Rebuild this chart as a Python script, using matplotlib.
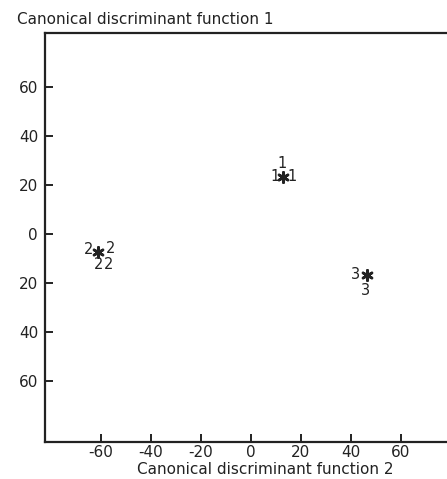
import matplotlib
matplotlib.use("Agg")
import matplotlib.pyplot as plt

# group membership of each case, and the case scores on functions 2 (x) and 1 (y)
case_groups = ["1", "1", "1", "2", "2", "2", "2", "3", "3"]
case_f2 = [12.4, 9.6, 16.4, -64.8, -56.0, -60.8, -56.8, 42.0, 46.0]
case_f1 = [28.8, 23.3, 23.3, -6.3, -6.0, -12.3, -12.3, -16.7, -23.2]

# group centroids
centroid_f2 = [12.8, -61.2, 46.4]
centroid_f1 = [23.3, -7.3, -16.7]

x_ticks = [-60, -40, -20, 0, 20, 40, 60]
x_ticklabels = ["-60", "-40", "-20", "0", "20", "40", "60"]
y_ticks = [60, 40, 20, 0, -20, -40, -60]
y_ticklabels = ["60", "40", "20", "0", "20", "40", "60"]

plt.rcParams['font.family'] = ['DejaVu Sans']

W, H = 447, 479
fig = plt.figure(figsize=(W / 100, H / 100), dpi=100)
ax = fig.add_axes([45 / W, 37 / H, (449 - 45) / W, (446 - 37) / H])

for g, x, y in zip(case_groups, case_f2, case_f1):
    ax.text(x, y, g, ha='center', va='center', fontsize=10.5, color='#222222')

ax.scatter(centroid_f2, centroid_f1, marker=(6, 2, 0), s=55, linewidths=1.9,
           color='#222222', zorder=3)

ax.set_xlim(-82.4, 79.2)
ax.set_ylim(-84.9, 82.0)
ax.set_xticks(x_ticks)
ax.set_xticklabels(x_ticklabels)
ax.set_yticks(y_ticks)
ax.set_yticklabels(y_ticklabels)
ax.tick_params(direction='in', length=6, width=1.4, labelsize=11,
               colors='#222222')
ax.tick_params(axis='x', pad=2)
ax.tick_params(axis='y', pad=5)

for s in ax.spines.values():
    s.set_linewidth(1.6)
    s.set_color('#222222')

fig.text(17 / W, 1 - 20 / H, "Canonical discriminant function 1",
         ha='left', va='center', fontsize=11, color='#222222')
fig.text(265 / W, 1 - 470 / H, "Canonical discriminant function 2",
         ha='center', va='center', fontsize=11, color='#222222')

fig.savefig("out.png", dpi=100)
